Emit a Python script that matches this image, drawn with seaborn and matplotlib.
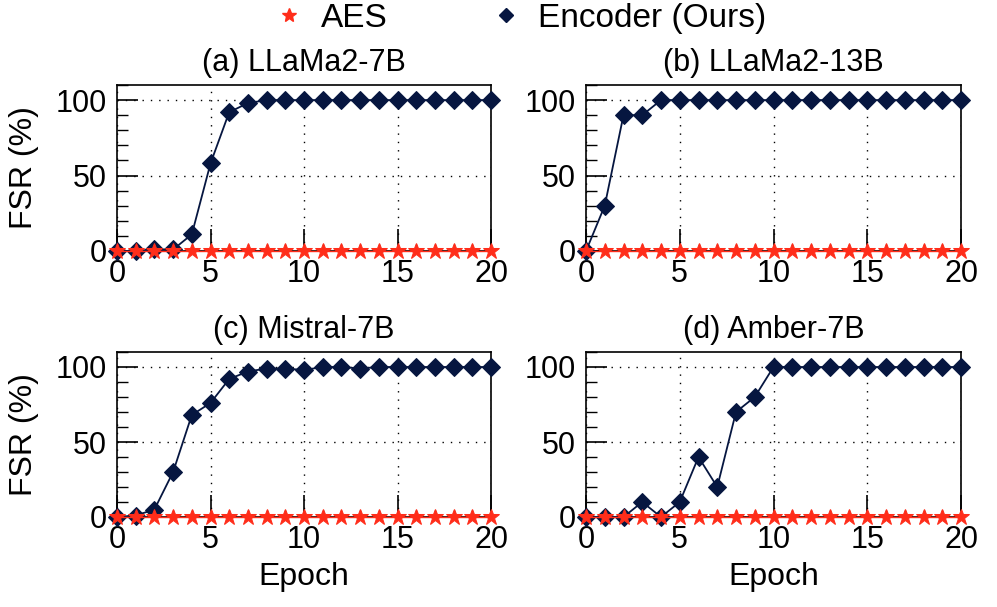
import numpy as np
import pandas as pd
import matplotlib
matplotlib.use("Agg")
import matplotlib.pyplot as plt
import seaborn as sns
from matplotlib.lines import Line2D
from matplotlib.ticker import MultipleLocator

sns.set_theme(style="white")
plt.rcParams['font.family'] = ['Liberation Sans', 'DejaVu Sans']

epochs = list(range(21))
titles = ["(a) LLaMa2-7B", "(b) LLaMa2-13B", "(c) Mistral-7B", "(d) Amber-7B"]
aes_llama7 = [0] * 21
aes_llama13 = [0] * 21
aes_mistral = [0] * 21
aes_amber = [0] * 21
enc_llama7 = [0, 0, 1, 1, 11, 58, 92, 98, 100, 100, 100, 100, 100, 100, 100, 100, 100, 100, 100, 100, 100]
enc_llama13 = [0, 30, 90, 90, 100, 100, 100, 100, 100, 100, 100, 100, 100, 100, 100, 100, 100, 100, 100, 100, 100]
enc_mistral = [0, 1, 5, 30, 68, 76, 92, 97, 99, 99, 98, 100, 100, 99, 100, 100, 100, 100, 100, 100, 100]
enc_amber = [0, 0, 0, 10, 0, 10, 40, 20, 70, 80, 100, 100, 100, 100, 100, 100, 100, 100, 100, 100, 100]

aes_all = [aes_llama7, aes_llama13, aes_mistral, aes_amber]
enc_all = [enc_llama7, enc_llama13, enc_mistral, enc_amber]

NAVY = '#061640'
RED = '#ff2d1a'

fig = plt.figure(figsize=(9.97, 6.07), dpi=100)
W, H = 997, 607
boxes = [(117, 85, 491, 251), (586, 85, 961, 251), (117, 352, 491, 517), (586, 352, 961, 517)]
axes = []
for (l, t, r, b) in boxes:
    axes.append(fig.add_axes([l / W, 1 - b / H, (r - l) / W, (b - t) / H]))

for i, ax in enumerate(axes):
    df_enc = pd.DataFrame({"Epoch": epochs, "FSR": enc_all[i]})
    df_aes = pd.DataFrame({"Epoch": epochs, "FSR": aes_all[i]})
    sns.lineplot(data=df_enc, x="Epoch", y="FSR", ax=ax, color=NAVY, marker='D',
                 markersize=9, markeredgecolor=NAVY, linewidth=1.3, clip_on=False, zorder=3)
    sns.lineplot(data=df_aes, x="Epoch", y="FSR", ax=ax, color=RED, marker='*',
                 markersize=12, markeredgecolor=RED, linewidth=1.0, clip_on=False, zorder=4)
    ax.set_xlim(0, 20)
    ax.set_ylim(0, 110)
    ax.xaxis.set_major_locator(MultipleLocator(5))
    ax.xaxis.set_minor_locator(MultipleLocator(1))
    ax.set_yticks([0, 50, 100])
    ax.yaxis.set_minor_locator(MultipleLocator(10))
    ax.tick_params(which='major', direction='in', length=15, width=1.2, color='black',
                   labelsize=22, labelcolor='black', top=False, right=False, bottom=True, left=True)
    ax.tick_params(axis='x', which='major', length=16, pad=6)
    ax.tick_params(axis='y', which='major', pad=7)
    ax.tick_params(which='minor', direction='in', length=8, width=1.0, color='black',
                   top=False, right=False, bottom=True, left=True)
    ax.tick_params(axis='x', which='minor', length=5)
    for s in ax.spines.values():
        s.set_color('black')
        s.set_linewidth(1.2)
    ax.grid(True, which='major', linestyle=(0, (1, 5)), color='black', linewidth=1.0)
    ax.set_axisbelow(True)
    ax.set_title(titles[i], fontsize=22, pad=10, color='black')
    if i % 2 == 0:
        ax.set_ylabel("FSR (%)", fontsize=23, color='black', labelpad=12)
    else:
        ax.set_ylabel("")
    if i >= 2:
        ax.set_xlabel("Epoch", fontsize=23, color='black', labelpad=5)
    else:
        ax.set_xlabel("")
    if ax.get_legend() is not None:
        ax.get_legend().remove()

handles = [
    Line2D([], [], linestyle='none', marker='*', color=RED, markersize=10),
    Line2D([], [], linestyle='none', marker='D', color=NAVY, markersize=7),
]
fig.legend(handles, ["AES", "Encoder (Ours)"], loc='upper center', bbox_to_anchor=(0.521, 1.045),
           ncol=2, frameon=False, fontsize=24, columnspacing=3.05, handlelength=1.0,
           handletextpad=0.45, labelcolor='black')

fig.savefig("out.png", dpi=100)
